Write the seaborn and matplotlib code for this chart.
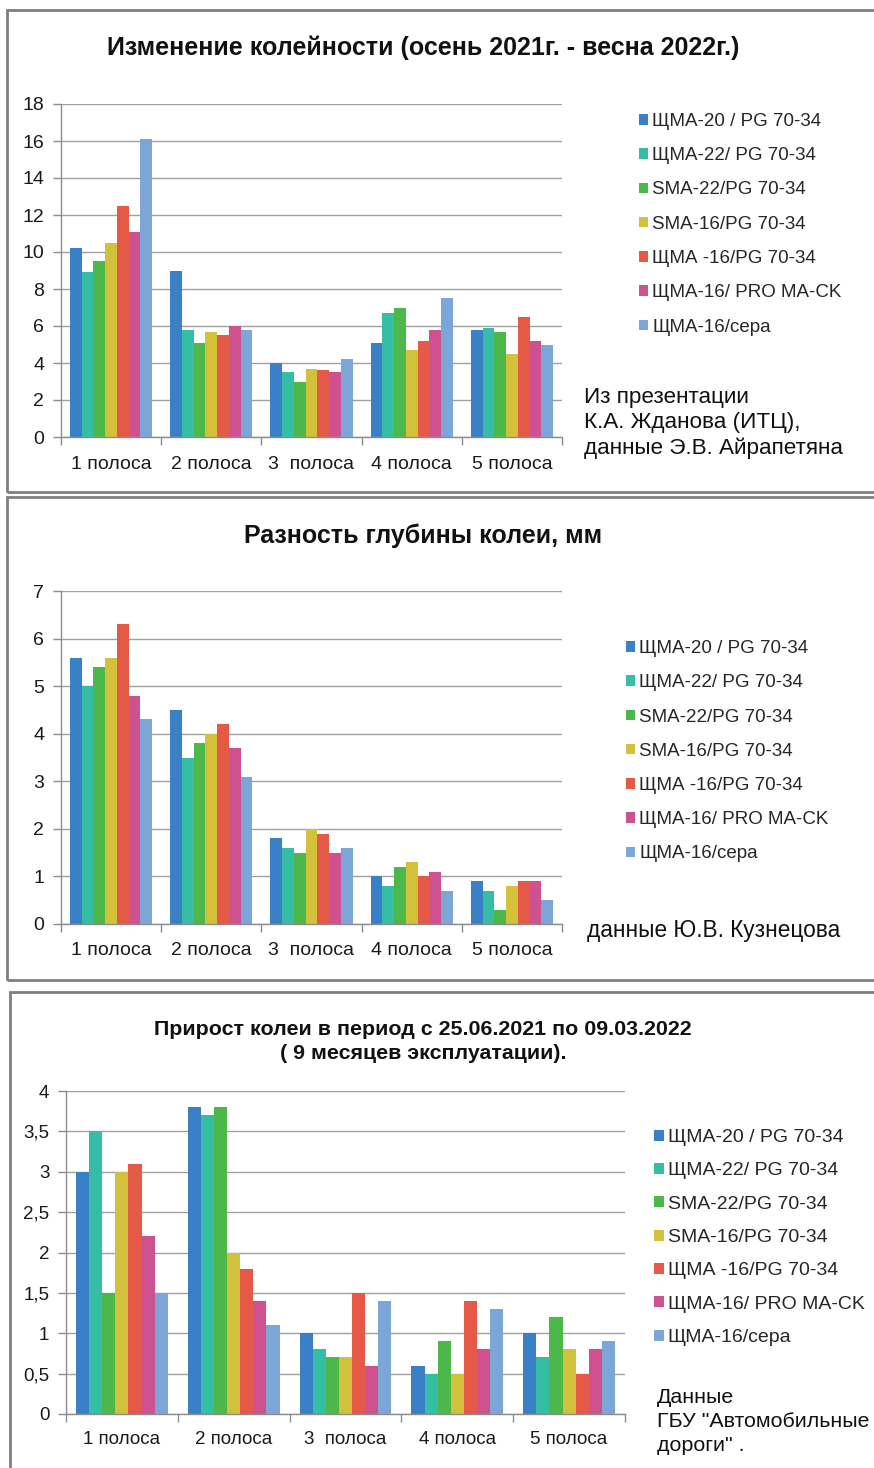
import numpy as np
import pandas as pd
import matplotlib
matplotlib.use("Agg")
import matplotlib.pyplot as plt
from matplotlib.patches import Rectangle
from matplotlib.ticker import FixedLocator, FuncFormatter
import seaborn as sns

# ---- data -------------------------------------------------------------
lanes = ["1 полоса", "2 полоса", "3  полоса", "4 полоса", "5 полоса"]
mixes = [
    "ЩМА-20 / PG 70-34",
    "ЩМА-22/ PG 70-34",
    "SMA-22/PG 70-34",
    "SMA-16/PG 70-34",
    "ЩМА -16/PG 70-34",
    "ЩМА-16/ PRO MA-CK",
    "ЩМА-16/сера",
]
colors = ["#3A80C6", "#35BDA6", "#4DB84A", "#D1C13B", "#E55A46", "#CF5290", "#7CA6D8"]

# rows = mixes, columns = lanes
rut_change = [
    [10.2, 9.0, 4.0, 5.1, 5.8],
    [8.9, 5.8, 3.5, 6.7, 5.9],
    [9.5, 5.1, 3.0, 7.0, 5.7],
    [10.5, 5.7, 3.7, 4.7, 4.5],
    [12.5, 5.5, 3.6, 5.2, 6.5],
    [11.1, 6.0, 3.5, 5.8, 5.2],
    [16.1, 5.8, 4.2, 7.5, 5.0],
]
depth_diff = [
    [5.6, 4.5, 1.8, 1.0, 0.9],
    [5.0, 3.5, 1.6, 0.8, 0.7],
    [5.4, 3.8, 1.5, 1.2, 0.3],
    [5.6, 4.0, 2.0, 1.3, 0.8],
    [6.3, 4.2, 1.9, 1.0, 0.9],
    [4.8, 3.7, 1.5, 1.1, 0.9],
    [4.3, 3.1, 1.6, 0.7, 0.5],
]
rut_growth = [
    [3.0, 3.8, 1.0, 0.6, 1.0],
    [3.5, 3.7, 0.8, 0.5, 0.7],
    [1.5, 3.8, 0.7, 0.9, 1.2],
    [3.0, 2.0, 0.7, 0.5, 0.8],
    [3.1, 1.8, 1.5, 1.4, 0.5],
    [2.2, 1.4, 0.6, 0.8, 0.8],
    [1.5, 1.1, 1.4, 1.3, 0.9],
]

title1 = "Изменение колейности (осень 2021г. - весна 2022г.)"
title2 = "Разность глубины колеи, мм"
title3 = "Прирост колеи в период с 25.06.2021 по 09.03.2022\n( 9 месяцев эксплуатации)."
note1 = "Из презентации\nК.А. Жданова (ИТЦ),\nданные Э.В. Айрапетяна"
note2 = "данные Ю.В. Кузнецова"
note3 = "Данные\nГБУ \"Автомобильные\nдороги\" ."

# ---- styling ----------------------------------------------------------
sns.set_theme(style="white")
plt.rcParams["font.family"] = ["Liberation Sans", "DejaVu Sans"]

W, H = 874, 1468
fig = plt.figure(figsize=(W / 100, H / 100), dpi=100)
fig.patch.set_facecolor("white")

GRID = "#A0A0A0"
SPINE = "#8C8C8C"
FRAME = "#7F7F7F"
INK = "#111111"


def px_box(x0, y0, x1, y1):
    """Pixel box (top-left origin) -> figure fraction rect."""
    return [x0 / W, 1 - y1 / H, (x1 - x0) / W, (y1 - y0) / H]


def frame(x0, y0, x1, y1):
    fig.patches.append(Rectangle((x0 / W, 1 - y1 / H), (x1 - x0) / W, (y1 - y0) / H,
                                 transform=fig.transFigure, fill=False,
                                 edgecolor=FRAME, linewidth=2.0, zorder=0))


def panel(values, box, ymax, ystep, comma, legend_xy, legend_fs, labelspacing,
          tick_fs, xpad):
    df = pd.DataFrame(
        [(lane, mix, values[i][j]) for i, mix in enumerate(mixes)
         for j, lane in enumerate(lanes)],
        columns=["lane", "mix", "value"],
    )
    ax = fig.add_axes(px_box(*box))
    sns.barplot(data=df, x="lane", y="value", hue="mix", order=lanes,
                hue_order=mixes, palette=colors, saturation=1, width=0.82,
                gap=0, linewidth=0, errorbar=None, ax=ax)
    ax.set_xlim(-0.5, len(lanes) - 0.5)
    ax.set_ylim(0, ymax)
    ticks = np.arange(0, ymax + ystep / 2, ystep)
    ax.yaxis.set_major_locator(FixedLocator(ticks))
    if comma:
        ax.yaxis.set_major_formatter(FuncFormatter(
            lambda v, p: (f"{v:g}").replace(".", ",")))
    else:
        ax.yaxis.set_major_formatter(FuncFormatter(lambda v, p: f"{v:g}"))
    ax.set_axisbelow(True)
    ax.yaxis.grid(True, color=GRID, linewidth=1.0)
    ax.xaxis.grid(False)
    for s in ("top", "right"):
        ax.spines[s].set_visible(False)
    for s in ("left", "bottom"):
        ax.spines[s].set_color(SPINE)
        ax.spines[s].set_linewidth(1.0)
    ax.set_xlabel("")
    ax.set_ylabel("")
    ax.tick_params(axis="y", which="major", direction="out", length=6,
                   color=SPINE, width=1.0, labelsize=tick_fs, pad=6,
                   left=True)
    ax.tick_params(axis="x", which="major", length=0, labelsize=tick_fs, pad=xpad)
    ax.xaxis.set_minor_locator(FixedLocator(np.arange(-0.5, len(lanes), 1.0)))
    ax.tick_params(axis="x", which="minor", direction="out", length=6,
                   color=SPINE, width=1.0, bottom=True)
    for lbl in ax.get_xticklabels() + ax.get_yticklabels():
        lbl.set_color("#1A1A1A")
    sns.move_legend(ax, loc="upper left",
                    bbox_to_anchor=(legend_xy[0] / W, 1 - legend_xy[1] / H),
                    bbox_transform=fig.transFigure, frameon=False, title=None,
                    fontsize=legend_fs, handlelength=0.5, handleheight=0.5,
                    handletextpad=0.2, labelspacing=labelspacing,
                    borderpad=0, borderaxespad=0)
    return ax


# ---- panel 1 ----------------------------------------------------------
frame(7, 10, 880, 492)
panel(rut_change, (61, 104, 562, 437), 18, 2, False, (639, 113), 13.5, 0.92, 14, 14)
fig.text(423 / W, 1 - 48 / H, title1, ha="center", va="center",
         fontsize=18, fontweight="bold", color=INK)
fig.text(584 / W, 1 - 387 / H, note1, ha="left", va="top", fontsize=16.2,
         linespacing=1.26, color=INK)

# ---- panel 2 ----------------------------------------------------------
frame(7, 497, 880, 980)
panel(depth_diff, (61, 591, 562, 924), 7, 1, False, (626, 640), 13.5, 0.92, 14, 13)
fig.text(423 / W, 1 - 536 / H, title2, ha="center", va="center",
         fontsize=18, fontweight="bold", color=INK)
fig.text(587 / W, 1 - 930 / H, note2, ha="left", va="center", fontsize=16.3,
         color=INK)

# ---- panel 3 ----------------------------------------------------------
frame(10, 992, 880, 1480)
panel(rut_growth, (66, 1091, 625, 1414), 4, 0.5, True, (654, 1129), 14.0, 0.84, 13.5, 12)
fig.text(423 / W, 1 - 1041.5 / H, title3, ha="center", va="center",
         fontsize=15.4, fontweight="bold", color=INK, linespacing=1.36)
fig.text(657 / W, 1 - 1388 / H, note3, ha="left", va="top", fontsize=15.4,
         linespacing=1.32, color=INK)

fig.savefig("out.png", dpi=100, facecolor="white")
